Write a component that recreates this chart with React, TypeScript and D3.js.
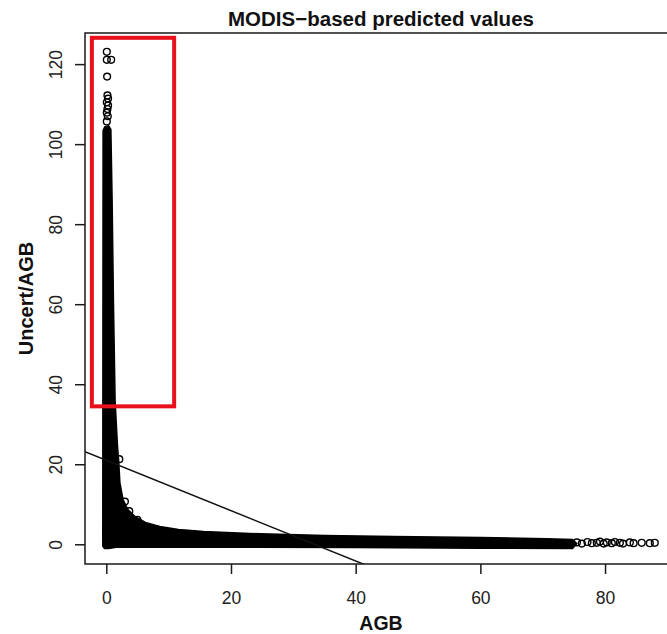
import * as d3 from "d3";

const WIDTH = 667;
const HEIGHT = 634;
// plot frame in pixels (R-style box)
const FRAME = { left: 85, right: 671, top: 33, bottom: 564 };

const FONT = "'Liberation Sans', Arial, Helvetica, sans-serif";

const TITLE = "MODIS\u2212based predicted values";
const X_LABEL = "AGB";
const Y_LABEL = "Uncert/AGB";

const X_DOMAIN: [number, number] = [-3.5, 90.5];
const Y_DOMAIN: [number, number] = [-4.8, 127.9];
const X_TICKS = [0, 20, 40, 60, 80];
const Y_TICKS = [0, 20, 40, 60, 80, 100, 120];

// outline of the solid cloud of overplotted points
const spikeRightEdge: [number, number][] = [
  [-0.6, 103.5],
  [-0.3, 104.5],
  [0.3, 104.7],
  [0.65, 103.8],
  [0.75, 95],
  [0.85, 86],
  [1.06, 61],
  [1.33, 36],
  [1.7, 25],
  [1.9, 21],
  [2.1, 15.5],
  [2.61, 11.25],
  [3.41, 8.75],
  [4.49, 7.1],
  [6.2, 5.6],
  [8.5, 4.6],
  [11.5, 3.8],
  [15.5, 3.3],
];
const bandTop: [number, number][] = [
  [24.6, 2.75],
  [35, 2.35],
  [46, 2.1],
  [60, 1.8],
  [70.6, 1.5],
  [74.7, 1.3],
  [75.4, 0.3],
];
const bandBottom: [number, number][] = [
  [74.7, -0.95],
  [60, -0.85],
  [40, -0.7],
  [20, -0.6],
  [1.5, -0.6],
  [0.3, -0.95],
  [-0.4, -0.9],
  [-0.65, -0.3],
];

// isolated open circles (pch = 1)
const topOutliers: [number, number][] = [
  [0.0, 123.2],
  [0.0, 121.2],
  [0.7, 121.2],
  [0.05, 117.0],
  [0.1, 112.3],
  [0.2, 111.5],
  [0.0, 110.6],
  [0.2, 109.8],
  [0.1, 108.9],
  [0.0, 108.0],
  [0.15, 107.1],
  [0.0, 105.8],
];
const kneeOutliers: [number, number][] = [
  [2.0, 21.4],
  [2.9, 10.8],
  [4.9, 6.25],
  [3.6, 8.4],
];
const tailX = [75.4, 76.2, 77.1, 77.8, 78.6, 79.1, 79.7, 80.2, 81.0, 81.5, 82.3, 82.8, 83.9, 84.5, 85.8, 87.1, 87.9];
const tailY = [0.6, 0.3, 0.7, 0.4, 0.5, 0.8, 0.3, 0.6, 0.4, 0.7, 0.5, 0.3, 0.6, 0.4, 0.5, 0.4, 0.5];

// fitted line (abline)
const FIT_INTERCEPT = 21.06;
const FIT_SLOPE = -0.629;

// highlight box
const BOX_X = [-2.4, 10.8];
const BOX_Y = [34.6, 126.7];

export default function App() {
  const x = d3.scaleLinear().domain(X_DOMAIN).range([FRAME.left, FRAME.right]);
  const y = d3.scaleLinear().domain(Y_DOMAIN).range([FRAME.bottom, FRAME.top]);

  const cloud = [...spikeRightEdge, ...bandTop, ...bandBottom];
  const cloudPath = d3
    .line<[number, number]>()
    .x((d) => x(d[0]))
    .y((d) => y(d[1]))
    .curve(d3.curveLinearClosed)(cloud) as string;

  const tail: [number, number][] = tailX.map((v, i) => [v, tailY[i]]);
  const circles = [...topOutliers, ...kneeOutliers, ...tail];

  const fitX0 = X_DOMAIN[0];
  const fitX1 = X_DOMAIN[1];

  return (
    <svg
      width={WIDTH}
      height={HEIGHT}
      style={{ position: "absolute", left: 0, top: 0, background: "#fff" }}
      fontFamily={FONT}
    >
      <defs>
        <clipPath id="plot-clip">
          <rect
            x={FRAME.left}
            y={FRAME.top}
            width={FRAME.right - FRAME.left}
            height={FRAME.bottom - FRAME.top}
          />
        </clipPath>
      </defs>

      <text x={381} y={26} textAnchor="middle" fontSize={20.5} fontWeight="bold" fill="#111">
        {TITLE}
      </text>

      <g clipPath="url(#plot-clip)">
        <path d={cloudPath} fill="#000" stroke="#000" strokeWidth={1.5} strokeLinejoin="round" />
        {circles.map((d, i) => (
          <circle key={i} cx={x(d[0])} cy={y(d[1])} r={3.4} fill="none" stroke="#000" strokeWidth={1.4} />
        ))}
        <line
          x1={x(fitX0)}
          y1={y(FIT_INTERCEPT + FIT_SLOPE * fitX0)}
          x2={x(fitX1)}
          y2={y(FIT_INTERCEPT + FIT_SLOPE * fitX1)}
          stroke="#111"
          strokeWidth={1.5}
        />
      </g>

      <rect
        x={x(BOX_X[0])}
        y={y(BOX_Y[1])}
        width={x(BOX_X[1]) - x(BOX_X[0])}
        height={y(BOX_Y[0]) - y(BOX_Y[1])}
        fill="none"
        stroke="#e8101a"
        strokeWidth={4}
      />

      <rect
        x={FRAME.left}
        y={FRAME.top}
        width={FRAME.right - FRAME.left}
        height={FRAME.bottom - FRAME.top}
        fill="none"
        stroke="#1a1a1a"
        strokeWidth={1.5}
      />

      {/* x axis */}
      <g>
        {X_TICKS.map((t) => (
          <g key={t}>
            <line x1={x(t)} x2={x(t)} y1={FRAME.bottom} y2={FRAME.bottom + 10} stroke="#1a1a1a" strokeWidth={1.5} />
            <text x={x(t)} y={604} textAnchor="middle" fontSize={17.5} fill="#222">
              {t}
            </text>
          </g>
        ))}
      </g>

      {/* y axis */}
      <g>
        {Y_TICKS.map((t) => (
          <g key={t}>
            <line x1={FRAME.left - 10} x2={FRAME.left} y1={y(t)} y2={y(t)} stroke="#1a1a1a" strokeWidth={1.5} />
            <text
              transform={`translate(62,${y(t)}) rotate(-90)`}
              textAnchor="middle"
              fontSize={17.5}
              fill="#222"
            >
              {t}
            </text>
          </g>
        ))}
      </g>

      <text x={381} y={630} textAnchor="middle" fontSize={19.5} fontWeight="bold" fill="#111">
        {X_LABEL}
      </text>
      <text
        transform={`translate(33,${(FRAME.top + FRAME.bottom) / 2}) rotate(-90)`}
        textAnchor="middle"
        fontSize={20}
        fontWeight="bold"
        fill="#111"
      >
        {Y_LABEL}
      </text>
    </svg>
  );
}
